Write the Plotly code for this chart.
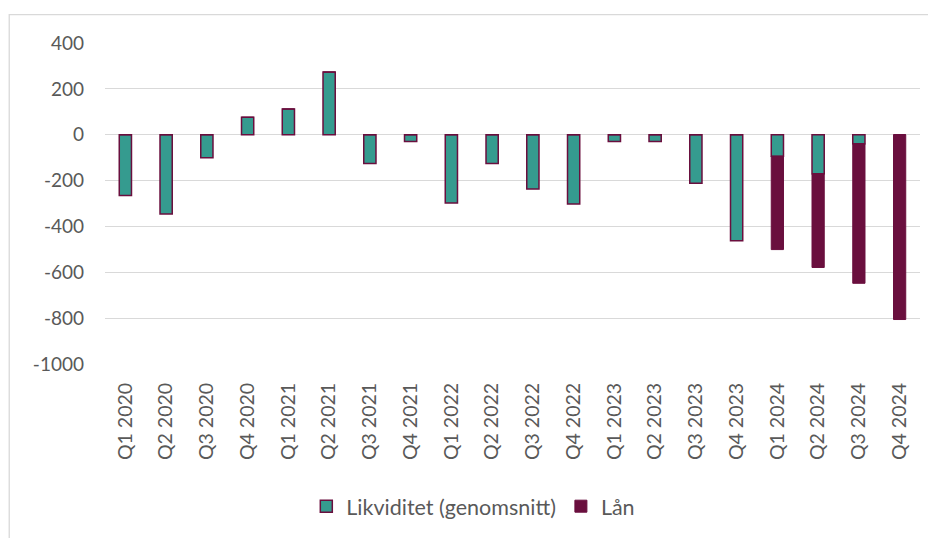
import plotly.graph_objects as go

quarters = ["Q1 2020", "Q2 2020", "Q3 2020", "Q4 2020",
            "Q1 2021", "Q2 2021", "Q3 2021", "Q4 2021",
            "Q1 2022", "Q2 2022", "Q3 2022", "Q4 2022",
            "Q1 2023", "Q2 2023", "Q3 2023", "Q4 2023",
            "Q1 2024", "Q2 2024", "Q3 2024", "Q4 2024"]
likviditet = [-265, -346, -100, 76, 112, 273, -125, -30,
              -298, -125, -237, -302, -30, -30, -212, -463,
              -94, -170, -39, 0]
laan = [0, 0, 0, 0, 0, 0, 0, 0,
        0, 0, 0, 0, 0, 0, 0, 0,
        -407, -409, -609, -806]
y_ticks = [400, 200, 0, -200, -400, -600, -800, -1000]

TEAL = "#359B8F"
PURPLE = "#6A0F3E"
TEXT = "#595959"
GRID = "#D9D9D9"
FONT = "Lato"

fig = go.Figure()
fig.add_trace(go.Bar(
    x=quarters, y=likviditet, name="Likviditet (genomsnitt)",
    width=0.3, marker=dict(color=TEAL, line=dict(color=PURPLE, width=1.5)),
))
fig.add_trace(go.Bar(
    x=quarters, y=laan, name="Lån",
    width=0.3, marker=dict(color=PURPLE, line=dict(color=PURPLE, width=1)),
))

fig.update_layout(
    barmode="relative",
    width=928, height=530,
    margin=dict(l=97, r=16, t=35, b=172),
    paper_bgcolor="white", plot_bgcolor="white",
    font=dict(family=FONT, size=19, color=TEXT),
    showlegend=True,
    legend=dict(orientation="h", x=0.247, xanchor="left", y=-0.443, yanchor="middle",
                font=dict(family=FONT, size=21.5, color=TEXT),
                itemwidth=30, traceorder="normal"),
    xaxis=dict(type="category", tickangle=-90, showgrid=False, showline=False,
               ticks="", ticklabelstandoff=14,
               tickfont=dict(family=FONT, size=19.5, color=TEXT)),
    yaxis=dict(range=[-1000, 400], tickvals=y_ticks, ticktext=[str(v) for v in y_ticks],
               showgrid=True, gridcolor=GRID, gridwidth=1.3, zeroline=False,
               showline=False, ticks="", ticklabelstandoff=20,
               tickfont=dict(family=FONT, size=19, color=TEXT)),
    shapes=[dict(type="rect", xref="paper", yref="paper",
                 x0=-0.1175, x1=1.2, y0=-0.8, y1=1.0885,
                 line=dict(color=GRID, width=1.3), fillcolor="rgba(0,0,0,0)", layer="below")],
)

fig.write_html("out.html")
